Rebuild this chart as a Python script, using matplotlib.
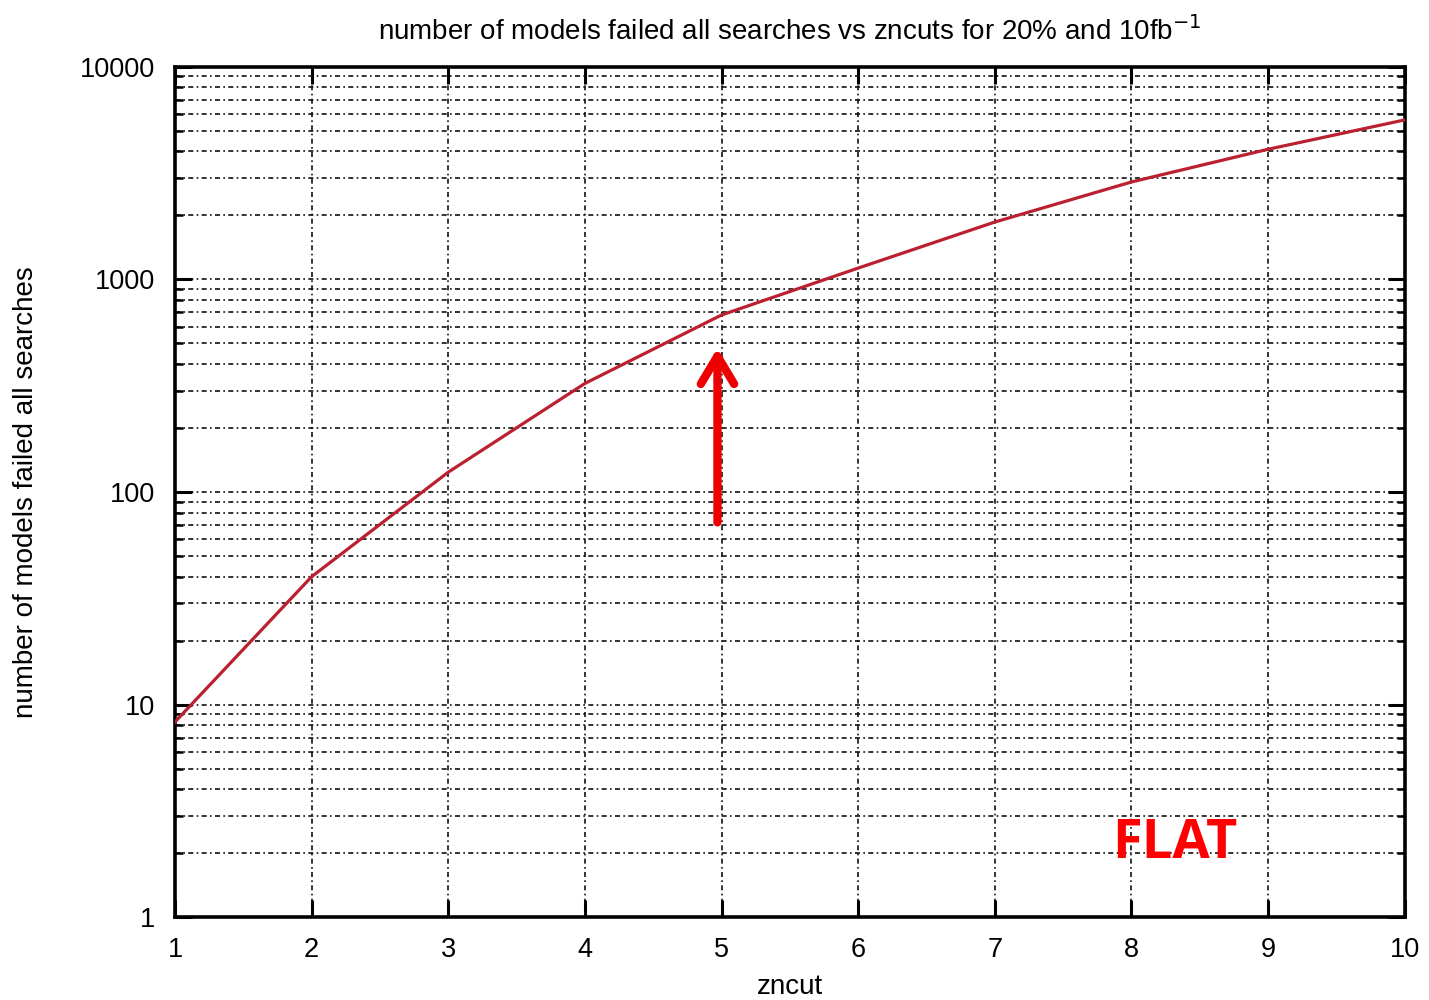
#!/usr/bin/env python3

import matplotlib
matplotlib.use('Agg')
import matplotlib.pyplot as plt
from matplotlib.ticker import LogLocator, FixedLocator, NullFormatter

# data
zncut = [1, 2, 3, 4, 5, 6, 7, 8, 9, 10]
n_failed = [8.3, 40, 124, 324, 680, 1130, 1860, 2870, 4090, 5620]
y_ticks = [1, 10, 100, 1000, 10000]
y_tick_labels = ['1', '10', '100', '1000', '10000']

# arrow at the chosen cut
arrow_x = 4.97
arrow_from = 72
arrow_to = 475
note_text = 'FLAT'

plt.rcParams['font.family'] = ['Liberation Sans', 'DejaVu Sans']

fig = plt.figure(figsize=(14.29, 10), dpi=100)
ax = fig.add_axes([0.1225, 0.0827, 0.8605, 0.8506])

ax.plot(zncut, n_failed, color='#bb2030', lw=2.3, zorder=3)

ax.set_yscale('log')
ax.set_xlim(1, 10)
ax.set_ylim(1, 10000)
ax.xaxis.set_major_locator(FixedLocator(zncut))
ax.yaxis.set_major_locator(FixedLocator(y_ticks))
ax.set_yticklabels(y_tick_labels)
ax.yaxis.set_minor_locator(LogLocator(base=10, subs=range(2, 10)))
ax.yaxis.set_minor_formatter(NullFormatter())

# gnuplot-like dotted grid
grid_style = dict(color='#111111', lw=1.2, linestyle=(0, (3, 2, 1, 2)))
ax.grid(True, which='major', axis='both', **grid_style)
ax.grid(True, which='minor', axis='y', **grid_style)

ax.tick_params(which='major', direction='in', length=12, width=2.2,
               top=True, right=True, labelsize=19.5, pad=14)
ax.tick_params(which='minor', direction='in', length=6, width=1.8,
               top=True, right=True)
for s in ax.spines.values():
    s.set_linewidth(2.6)

ax.set_title('number of models failed all searches vs zncuts for 20% and 10fb$^{-1}$',
             fontsize=20, pad=19)
ax.set_xlabel('zncut', fontsize=20, labelpad=8)
ax.set_ylabel('number of models failed all searches', fontsize=20, labelpad=30)

ax.annotate('', xy=(arrow_x, arrow_to), xytext=(arrow_x, arrow_from),
            arrowprops=dict(arrowstyle='->, head_length=1.0, head_width=0.6',
                            mutation_scale=20, color='#ee0000', lw=6,
                            capstyle='round', joinstyle='round',
                            shrinkA=0, shrinkB=0),
            zorder=4)

ax.text(8.32, 2.22, note_text, color='#ff0000', fontsize=39,
        fontweight='bold', family=['Open Sans', 'DejaVu Sans'],
        ha='center', va='center', zorder=4)

fig.savefig('out.png', dpi=100)
